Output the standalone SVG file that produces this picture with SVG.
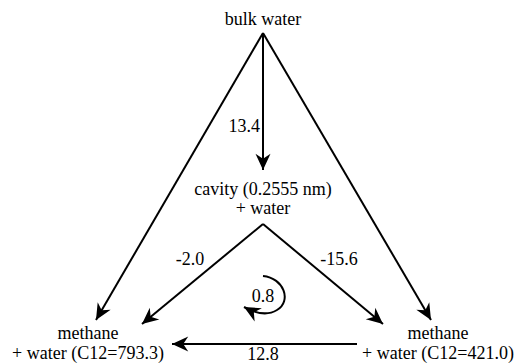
<svg xmlns="http://www.w3.org/2000/svg" width="518" height="364" viewBox="0 0 518 364">
<defs>
<style>
text{font-family:'Liberation Serif','Times New Roman',serif;font-size:18px;fill:#000;text-anchor:middle}
.c{fill:none;stroke:#000;stroke-width:2}
</style>
<marker id="ah" markerUnits="userSpaceOnUse" markerWidth="20" markerHeight="20" viewBox="-14 -8 16 16" refX="0" refY="0" orient="auto">
<path d="M0,0 L-13,-6 L-9,0 L-13,6 Z" fill="#000"/>
</marker>
</defs>
<rect width="518" height="364" fill="#fff"/>
<g id="connectors">
<path class="c" d="M263,33 L263,170" marker-end="url(#ah)"/>
<path class="c" d="M263,33 L96,320" marker-end="url(#ah)"/>
<path class="c" d="M263,33 L431,320" marker-end="url(#ah)"/>
<path class="c" d="M263,224 L142,324" marker-end="url(#ah)"/>
<path class="c" d="M263,224 L383,324" marker-end="url(#ah)"/>
<path class="c" d="M357,344 L172,344" marker-end="url(#ah)"/>
<path class="c" d="M263,276 C284,278 292,301 277,310 Q264,318 244,307" marker-end="url(#ah)"/>
<text x="260" y="132" style="text-anchor:end">13.4</text>
<text x="190" y="265">-2.0</text>
<text x="339" y="265">-15.6</text>
<text x="263" y="302">0.8</text>
<text x="263" y="360">12.8</text>
</g>
<g id="bulk"><text x="263" y="25">bulk water</text></g>
<g id="cavity"><text x="263" y="195">cavity (0.2555 nm)</text><text x="263" y="214">+ water</text></g>
<g id="methane-left"><text x="88" y="339">methane</text><text x="88" y="359">+ water (C12=793.3)</text></g>
<g id="methane-right"><text x="438" y="339">methane</text><text x="438" y="359">+ water (C12=421.0)</text></g>
</svg>
